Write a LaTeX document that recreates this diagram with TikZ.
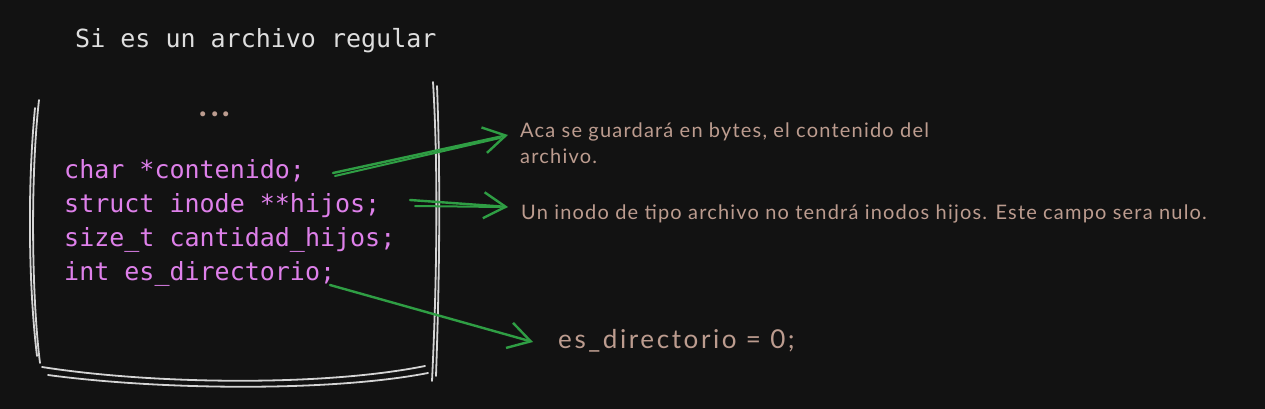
\documentclass[tikz,border=0pt]{standalone}
\usepackage{fontspec}
\setmonofont{DejaVu Sans Mono}
\newfontfamily\notafont{Lato}[LetterSpace=6]
\newfontfamily\valorfont{Lato}[LetterSpace=10]
\usetikzlibrary{arrows.meta}
\definecolor{fondo}{HTML}{121212}
\definecolor{titulo}{HTML}{DEDEDE}
\definecolor{violeta}{HTML}{DE80EA}
\definecolor{cafe}{HTML}{BC9C8F}
\definecolor{verde}{HTML}{2F9E44}
\definecolor{trazo}{HTML}{D4D4D4}
\tikzset{
  codigo/.style={anchor=base west, inner sep=0mm, text=violeta,
    font=\ttfamily\fontsize{25}{30}\selectfont
  },
  nota/.style={anchor=base west, inner sep=0mm, text=cafe, align=left,
    font=\notafont\fontsize{20}{25}\selectfont
  },
  flecha/.style={
    draw=verde, line width=2.4pt, line cap=round, line join=round,
    -{Straight Barb[length=22pt, width=26pt, line width=2.4pt]}
  },
  linea/.style={
    draw=verde, line width=2pt, line cap=round
  },
  borde/.style={
    draw=trazo, line width=1.8pt, line cap=round
  }
}

\begin{document}
\begin{tikzpicture}[x=1pt, y=-1pt]
  \fill[fondo] (0,0) rectangle (1265,409);
  \useasboundingbox (0,0) rectangle (1265,409);

  % titulo
  \node[codigo, text=titulo] (titulo) at (75,48) {Si es un archivo regular};

  % caja
  \draw[borde] (39,100) .. controls (30,180) and (32,300) .. (40,363);
  \draw[borde] (35,108) .. controls (27,190) and (29,290) .. (37,356);
  \draw[borde] (433,82) .. controls (439,180) and (436,300) .. (432,381);
  \draw[borde] (437,86) .. controls (441,190) and (439,290) .. (436,376);
  \draw[borde] (42,367) .. controls (150,384) and (320,387) .. (425,366);
  \draw[borde] (48,375) .. controls (160,390) and (330,392) .. (428,373);

  % campos
  \node[nota, font=\notafont\fontsize{40}{40}\selectfont] (puntos) at (198,117) {...};
  \node[codigo] (contenido) at (64,178) {char *contenido;};
  \node[codigo] (hijos) at (64,212) {struct inode **hijos;};
  \node[codigo] (cantidad) at (64,246) {size\_t cantidad\_hijos;};
  \node[codigo] (esdir) at (64,280) {int es\_directorio;};

  % notas
  \node[nota] (nota1) at (520,163) {Aca se guardará en bytes, el contenido del\\archivo.};
  \node[nota] (nota2) at (521,219) {Un inodo de tipo archivo no tendrá inodos hijos. Este campo sera nulo.};
  \node[nota, font=\valorfont\fontsize{26}{30}\selectfont] (valor) at (558,348) {es\_directorio = 0;};

  % flechas
  \coordinate (a1) at (333,173);
  \coordinate (b1) at (508,135);
  \coordinate (a2) at (410,200);
  \coordinate (b2) at (508,207);
  \coordinate (a3) at (330,285);
  \coordinate (b3) at (533,342);
  \draw[flecha] (a1) -- (b1);
  \draw[linea] (335,176) -- (500,138);
  \draw[flecha] (a2) -- (b2);
  \draw[linea] (415,206) -- (500,207);
  \draw[flecha] (a3) -- (b3);
\end{tikzpicture}
\end{document}
